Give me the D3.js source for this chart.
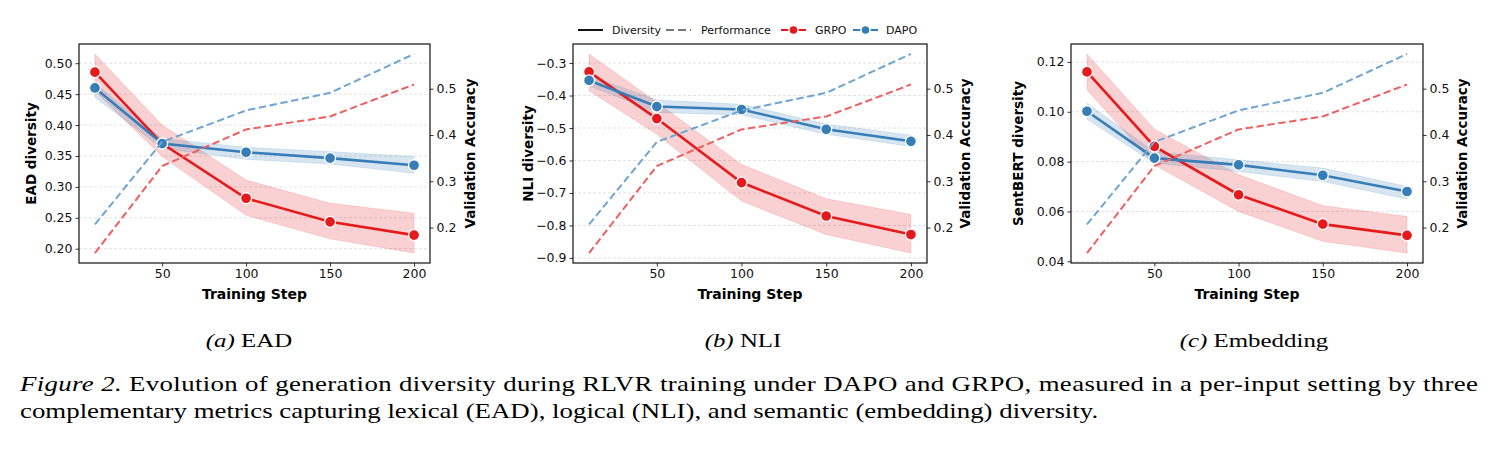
<!DOCTYPE html>
<html>
<head>
<meta charset="utf-8">
<script src="https://cdn.jsdelivr.net/npm/d3@7"></script>
<style>
  body { margin: 0; background: #fff; }
  svg text { font-family: "DejaVu Sans", sans-serif; }
</style>
</head>
<body>
<div class="chart"></div>
<script>
// training steps
const steps = [10, 50, 100, 150, 200]

// validation accuracy (same for all panels, right axis)
const perfGRPO = [0.145, 0.333, 0.412, 0.440, 0.509]
const perfDAPO = [0.207, 0.385, 0.453, 0.491, 0.575]

// (a) EAD
const eadGRPO = [0.4855, 0.370, 0.2816, 0.2435, 0.222]
const eadGRPOlo = [0.455, 0.349, 0.254, 0.216, 0.193]
const eadGRPOhi = [0.515, 0.400, 0.311, 0.2735, 0.2575]
const eadDAPO = [0.460, 0.370, 0.356, 0.3465, 0.335]
const eadDAPOlo = [0.445, 0.362, 0.3445, 0.337, 0.322]
const eadDAPOhi = [0.468, 0.378, 0.364, 0.357, 0.349]

// (b) NLI
const nliGRPO = [-0.327, -0.471, -0.668, -0.771, -0.828]
const nliGRPOlo = [-0.385, -0.519, -0.725, -0.828, -0.885]
const nliGRPOhi = [-0.272, -0.421, -0.612, -0.718, -0.766]
const nliDAPO = [-0.3535, -0.434, -0.443, -0.504, -0.541]
const nliDAPOlo = [-0.370, -0.452, -0.460, -0.519, -0.557]
const nliDAPOhi = [-0.339, -0.414, -0.427, -0.488, -0.522]

// (c) Embedding
const embGRPO = [0.116, 0.0861, 0.0667, 0.0549, 0.0504]
const embGRPOlo = [0.1088, 0.0787, 0.060, 0.048, 0.0433]
const embGRPOhi = [0.1232, 0.093, 0.0747, 0.0623, 0.058]
const embDAPO = [0.1002, 0.0814, 0.0787, 0.0745, 0.068]
const embDAPOlo = [0.097, 0.0794, 0.076, 0.072, 0.065]
const embDAPOhi = [0.1034, 0.084, 0.0807, 0.0774, 0.070]

const xTicks = [50, 100, 150, 200]
const perfTicks = [0.2, 0.3, 0.4, 0.5]
const eadTicks = [0.20, 0.25, 0.30, 0.35, 0.40, 0.45, 0.50]
const nliTicks = [-0.9, -0.8, -0.7, -0.6, -0.5, -0.4, -0.3]
const embTicks = [0.04, 0.06, 0.08, 0.10, 0.12]

const legendNames = ["Diversity", "Performance", "GRPO", "DAPO"]
const subCaps = [["(a)", "EAD"], ["(b)", "NLI"], ["(c)", "Embedding"]]

const red = "#e41a1c", blue = "#377eb8"
const redDash = "#ee5f60", blueDash = "#6fa5d2"

let svg = d3.select('.chart')
  .append("svg")
  .attr("width", 1491)
  .attr("height", 450)

let pad5 = (lo, hi) => {
  let r = hi - lo
  return [lo - r * 0.05, hi + r * 0.05]
}

let panels = [
  { left: 79, right: 430, ylab: "EAD diversity", ylx: 31, rlx: 470, ticks: eadTicks, fmt: ".2f", capx: 249,
    g: eadGRPO, glo: eadGRPOlo, ghi: eadGRPOhi, d: eadDAPO, dlo: eadDAPOlo, dhi: eadDAPOhi },
  { left: 573, right: 927, ylab: "NLI diversity", ylx: 528, rlx: 965, ticks: nliTicks, fmt: ".1f", capx: 743,
    g: nliGRPO, glo: nliGRPOlo, ghi: nliGRPOhi, d: nliDAPO, dlo: nliDAPOlo, dhi: nliDAPOhi },
  { left: 1071, right: 1423, ylab: "SentBERT diversity", ylx: 1018, rlx: 1462, ticks: embTicks, fmt: ".2f", capx: 1254,
    g: embGRPO, glo: embGRPOlo, ghi: embGRPOhi, d: embDAPO, dlo: embDAPOlo, dhi: embDAPOhi }
]

let pTop = 44, pBottom = 263
let serif = "'Liberation Serif', 'Times New Roman', serif"
let sx = 1.31 // the figure is a bit wider than tall

panels.forEach((p, pi) => {
  let g = svg.append("g")
  let x = d3.scaleLinear().domain(pad5(10, 200)).range([p.left, p.right])
  let all = p.glo.concat(p.ghi, p.dlo, p.dhi, p.g, p.d)
  let y = d3.scaleLinear().domain(pad5(d3.min(all), d3.max(all))).range([pBottom, pTop])
  let allp = perfGRPO.concat(perfDAPO)
  let y2 = d3.scaleLinear().domain(pad5(d3.min(allp), d3.max(allp))).range([pBottom, pTop])

  // grid
  g.selectAll(".grid").data(p.ticks).enter().append("line")
    .attr("x1", p.left).attr("x2", p.right)
    .attr("y1", d => y(d)).attr("y2", d => y(d))
    .style("stroke", "#d9d9d9").style("stroke-width", 0.8)
    .style("stroke-dasharray", "3,2")

  let idx = d3.range(steps.length)
  let band = (lo, hi) => d3.area().x(i => x(steps[i])).y0(i => y(lo[i])).y1(i => y(hi[i]))
  let line = (vals, sc) => d3.line().x(i => x(steps[i])).y(i => sc(vals[i]))

  g.append("path").attr("d", band(p.glo, p.ghi)(idx))
    .style("fill", red).style("fill-opacity", 0.2).style("stroke", red).style("stroke-opacity", 0.15)
  g.append("path").attr("d", band(p.dlo, p.dhi)(idx))
    .style("fill", blue).style("fill-opacity", 0.2).style("stroke", blue).style("stroke-opacity", 0.15)

  let series = [[p.g, red], [p.d, blue]]
  series.forEach(([vals, c]) => {
    g.append("path").attr("d", line(vals, y)(idx))
      .style("fill", "none").style("stroke", c).style("stroke-width", 2.6)
  })
  series.forEach(([vals, c]) => {
    g.selectAll(null).data(idx).enter().append("circle")
      .attr("cx", i => x(steps[i])).attr("cy", i => y(vals[i])).attr("r", 5.5)
      .style("fill", c).style("stroke", "#fff").style("stroke-width", 1.3)
  })

  // performance (twin axis)
  let perf = [[perfGRPO, redDash], [perfDAPO, blueDash]]
  perf.forEach(([vals, c]) => {
    g.append("path").attr("d", line(vals, y2)(idx))
      .style("fill", "none").style("stroke", c).style("stroke-width", 2)
      .style("stroke-dasharray", "7.4,3.6")
  })

  // axes
  let ax = g.append("g").attr("transform", `translate(0,${pBottom})`)
    .call(d3.axisBottom(x).tickValues(xTicks).tickSize(3.5).tickPadding(3))
  let ayl = g.append("g").attr("transform", `translate(${p.left},0)`)
    .call(d3.axisLeft(y).tickValues(p.ticks).tickSize(3.5).tickPadding(3)
      .tickFormat(d => d3.format(p.fmt)(d).replace("-", "\u2212")))
  let ayr = g.append("g").attr("transform", `translate(${p.right},0)`)
    .call(d3.axisRight(y2).tickValues(perfTicks).tickSize(3.5).tickPadding(3).tickFormat(d3.format(".1f")))
  ;[ax, ayl, ayr].forEach(a => {
    a.select(".domain").remove()
    a.selectAll("text").style("font-size", "12.5px").style("fill", "#111")
    a.selectAll("line").style("stroke", "#333")
  })

  // frame
  g.append("rect").attr("x", p.left).attr("y", pTop)
    .attr("width", p.right - p.left).attr("height", pBottom - pTop)
    .style("fill", "none").style("stroke", "#111").style("stroke-width", 1.2)

  g.append("text").attr("x", (p.left + p.right) / 2).attr("y", 299)
    .attr("text-anchor", "middle").style("font-size", "14px").style("font-weight", "bold")
    .text("Training Step")
  g.append("text").attr("transform", `translate(${p.ylx},${(pTop + pBottom) / 2}) rotate(-90)`)
    .attr("text-anchor", "middle").attr("dy", "0.35em")
    .style("font-size", "13.5px").style("font-weight", "bold").text(p.ylab)
  g.append("text").attr("transform", `translate(${p.rlx},${(pTop + pBottom) / 2}) rotate(-90)`)
    .attr("text-anchor", "middle").attr("dy", "0.35em")
    .style("font-size", "13.5px").style("font-weight", "bold").text("Validation Accuracy")

  // sub caption
  let cap = svg.append("text").attr("transform", `translate(${p.capx},347) scale(${sx},1)`)
    .attr("text-anchor", "middle")
    .style("font-family", serif).style("font-size", "19px")
  cap.append("tspan").style("font-style", "italic").text(subCaps[pi][0])
  cap.append("tspan").text(" " + subCaps[pi][1])
})

// legend
let lg = svg.append("g").style("font-size", "11px")
let lgY = 30
let lgItems = [
  { x: 578, tx: 612, c: "#111", dash: null, dot: false },
  { x: 666, tx: 701, c: "#777", dash: "8,4", dot: false },
  { x: 781, tx: 815, c: red, dash: null, dot: true },
  { x: 853, tx: 886, c: blue, dash: null, dot: true }
]
lgItems.forEach((it, i) => {
  lg.append("line").attr("x1", it.x).attr("x2", it.x + 25).attr("y1", lgY).attr("y2", lgY)
    .style("stroke", it.c).style("stroke-width", 2).style("stroke-dasharray", it.dash)
  if (it.dot) {
    lg.append("circle").attr("cx", it.x + 12.5).attr("cy", lgY).attr("r", 4.5)
      .style("fill", it.c).style("stroke", "#fff").style("stroke-width", 1.5)
  }
  lg.append("text").attr("x", it.tx).attr("y", lgY).attr("dy", "0.35em").style("fill", "#111").text(legendNames[i])
})

// figure caption
let c1 = svg.append("text").attr("transform", `translate(20,391) scale(${sx},1)`)
  .attr("textLength", 1458 / sx).attr("lengthAdjust", "spacing")
  .style("font-family", serif).style("font-size", "20.5px")
c1.append("tspan").style("font-style", "italic").text("Figure 2.")
c1.append("tspan").text(" Evolution of generation diversity during RLVR training under DAPO and GRPO, measured in a per-input setting by three")
svg.append("text").attr("transform", `translate(20,418) scale(${sx},1)`)
  .style("font-family", serif).style("font-size", "20.5px")
  .text("complementary metrics capturing lexical (EAD), logical (NLI), and semantic (embedding) diversity.")
</script>
</body>
</html>
